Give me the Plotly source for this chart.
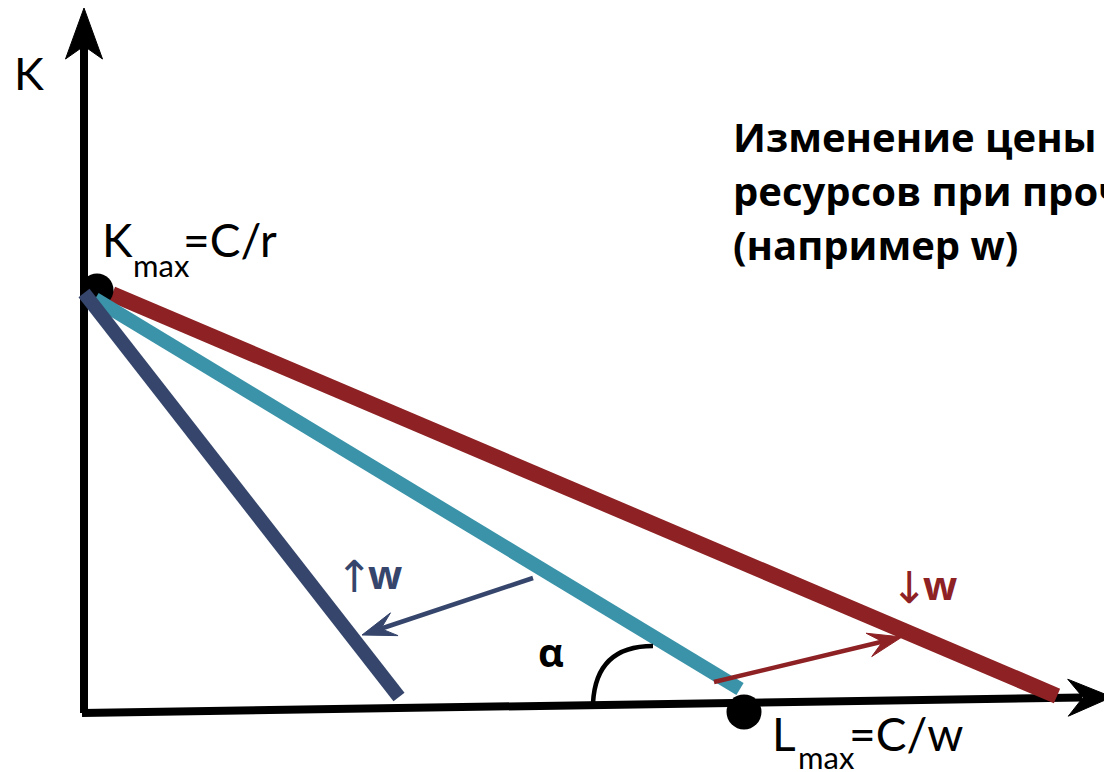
import plotly.graph_objects as go

W, H = 1112, 772
PAGE_MARGIN = 8  # default body margin of the html page

# ---- diagram data (in pixel-like diagram units, y downwards) ----
origin = (84, 713)
y_axis_tip = (84, 8)
x_axis_tip = (1112, 697)

k_max_point = (97, 290)
l_max_point = (744, 712)

red_line = {"x": [112, 1057], "y": [294, 696]}      # lower w
teal_line = {"x": [95, 740], "y": [299, 689]}       # initial
navy_line = {"x": [84, 399], "y": [293, 697]}       # higher w

navy_arrow = {"x": [533, 362], "y": [578, 635]}
red_arrow = {"x": [714, 902], "y": [682, 637]}

title_lines = ["Изменение цены", "ресурсов при прочих равных", "(например w)"]

RED = "#8E2124"
TEAL = "#3A93A8"
NAVY = "#35456B"

fig = go.Figure()

def line(xs, ys, color, width):
    fig.add_trace(go.Scatter(x=xs, y=ys, mode="lines",
                             line=dict(color=color, width=width),
                             hoverinfo="skip", showlegend=False))

def poly(pts, color):
    xs = [p[0] for p in pts] + [pts[0][0]]
    ys = [p[1] for p in pts] + [pts[0][1]]
    fig.add_trace(go.Scatter(x=xs, y=ys, mode="lines", fill="toself",
                             fillcolor=color, line=dict(color=color, width=1),
                             hoverinfo="skip", showlegend=False))

def stealth(x0, y0, x1, y1, color, length, half, notch):
    dx, dy = x1 - x0, y1 - y0
    n = (dx * dx + dy * dy) ** 0.5
    ux, uy = dx / n, dy / n
    px, py = -uy, ux
    bx, by = x1 - ux * length, y1 - uy * length
    nx, ny = x1 - ux * notch, y1 - uy * notch
    poly([(x1, y1), (bx + px * half, by + py * half), (nx, ny),
          (bx - px * half, by - py * half)], color)

# axes
line([origin[0], y_axis_tip[0]], [origin[1], y_axis_tip[1] + 30], "black", 8)
line([origin[0] - 2, x_axis_tip[0] - 30], [origin[1], x_axis_tip[1] + 0.5], "black", 8)
stealth(y_axis_tip[0], 300, y_axis_tip[0], y_axis_tip[1], "black", 51, 18.5, 38)
stealth(600, 705, x_axis_tip[0], x_axis_tip[1], "black", 44, 18.5, 29)

# budget lines
line(red_line["x"], red_line["y"], RED, 16)
fig.add_trace(go.Scatter(x=[k_max_point[0]], y=[k_max_point[1]], mode="markers",
                         marker=dict(color="black", size=33), hoverinfo="skip",
                         showlegend=False))
line(teal_line["x"], teal_line["y"], TEAL, 14)
line(navy_line["x"], navy_line["y"], NAVY, 14)
fig.add_trace(go.Scatter(x=[l_max_point[0]], y=[l_max_point[1]], mode="markers",
                         marker=dict(color="black", size=35), hoverinfo="skip",
                         showlegend=False))

# shift arrows
line([navy_arrow["x"][0], navy_arrow["x"][1] + 15],
     [navy_arrow["y"][0], navy_arrow["y"][1] - 5], NAVY, 4.5)
stealth(navy_arrow["x"][0], navy_arrow["y"][0], navy_arrow["x"][1], navy_arrow["y"][1],
        NAVY, 34, 12, 20)
line([red_arrow["x"][0], red_arrow["x"][1] - 15],
     [red_arrow["y"][0], red_arrow["y"][1] + 3.5], RED, 4.5)
stealth(red_arrow["x"][0], red_arrow["y"][0], red_arrow["x"][1], red_arrow["y"][1],
        RED, 34, 12, 20)

# angle arc
fig.add_shape(type="path", path="M 593,703 Q 596,646 653,646",
              line=dict(color="black", width=4.5), xref="x", yref="y")

def text(x, y, s, size, color="black", family="Lato", xanchor="left"):
    fig.add_annotation(x=x, y=y, text=s, showarrow=False, xanchor=xanchor,
                       yanchor="middle", xref="x", yref="y",
                       font=dict(family=family, size=size, color=color))

text(12, 73, "K", 45)
text(100, 239, "K", 46)
text(131, 265, "max", 31)
text(181, 239, "=C/r", 46)
text(770, 733, "L", 46)
text(796, 757, "max", 31)
text(847, 733, "=C/w", 46)
text(1103, 744, "L", 46)
text(551, 651, "<b>α</b>", 40, family="Open Sans", xanchor="center")
text(354, 576, "↑", 44, NAVY, family="DejaVu Sans", xanchor="center")
text(385, 573, "<b>w</b>", 40, NAVY, family="Open Sans", xanchor="center")
text(909, 587, "↓", 44, RED, family="DejaVu Sans", xanchor="center")
text(940, 584, "<b>w</b>", 40, RED, family="Open Sans", xanchor="center")

for i, ln in enumerate(title_lines):
    text(731, 136 + i * 54, "<b>" + ln + "</b>", 40, family="Open Sans")

fig.update_layout(
    width=W, height=H, margin=dict(l=0, r=0, t=0, b=0),
    paper_bgcolor="white", plot_bgcolor="white",
    xaxis=dict(range=[PAGE_MARGIN, W + PAGE_MARGIN], visible=False, fixedrange=True),
    yaxis=dict(range=[H + PAGE_MARGIN, PAGE_MARGIN], visible=False, fixedrange=True),
    showlegend=False,
)
fig.write_html("out.html")
